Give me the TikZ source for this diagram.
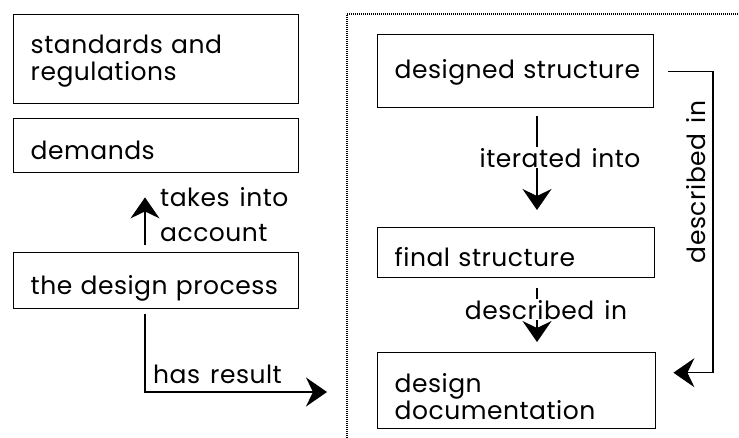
\documentclass[tikz,border=0pt]{standalone}
\usepackage{fontspec}
\setmainfont{Poppins}[LetterSpace=2,WordSpace=1.4]
\usetikzlibrary{arrows.meta,calc}
\tikzset{headtip/.tip={Stealth[length=21pt,width=29pt,inset=7pt]}}
\begin{document}
\begin{tikzpicture}[x=1pt,y=-1pt,
  every node/.style={font=\fontsize{25}{27}\selectfont},
  box/.style={draw, line width=1.4pt, anchor=north west, inner xsep=17pt, inner ysep=0pt, align=left},
  conn/.style={line width=1.4pt, -headtip},
  lbl/.style={inner sep=0pt}]
\useasboundingbox (0,0) rectangle (739,437);
% dotted system boundary
\draw[line width=1.1pt, dash pattern=on 1pt off 1pt] (347,440) -- (347,14) -- (742,14);
% boxes
\node[box, text width=251pt, text height=39pt, text depth=50pt] (std) at (13,14) {\mbox{standards and}\\\mbox{regulations}};
\node[box, text width=251pt, text height=41pt, text depth=13pt] (dem) at (13,118) {\mbox{demands}};
\node[box, text width=251pt, text height=42pt, text depth=14pt] (proc) at (13,252) {\mbox{the design process}};
\node[box, text width=242pt, text height=44pt, text depth=29pt] (des) at (377,34) {\mbox{designed structure}};
\node[box, text width=243pt, text height=39pt, text depth=11pt] (fin) at (377,227) {\mbox{final structure}};
\node[box, text width=244pt, text height=40pt, text depth=36pt, font=\fontsize{25}{25}\selectfont] (doc) at (377,352) {\mbox{design}\\\mbox{documentation}};
% helper coordinates
\coordinate (ax) at (145,0);
\coordinate (bx) at (537,0);
\coordinate (rx) at (713,0);
\coordinate (hr) at (327,392);
\coordinate (dr) at ($(doc.east)+(0,-18)$);
% takes into account
\draw[conn, shorten <=7pt, shorten >=24pt] (proc.north -| ax) -- (dem.south -| ax);
\node[lbl, anchor=base west] (ta) at (160,206) {takes into};
\node[lbl, anchor=base west] (tb) at (160,241) {account};
% has result
\draw[conn, shorten <=5pt] (proc.south -| ax) -- (ax |- hr) -- (hr);
\node[lbl, anchor=base west] (hres) at (153,383) {has result};
% iterated into
\draw[conn, shorten <=8pt, shorten >=17pt] (des.south -| bx) -- (fin.north -| bx);
\node[lbl, anchor=base, fill=white, inner ysep=1pt] (it) at (560,167) {iterated into};
% described in (lower)
\draw[conn, shorten <=10pt, shorten >=10pt] (fin.south -| bx) -- (doc.north -| bx);
\node[lbl, anchor=base, fill=white, inner ysep=1pt] (d1) at (546,319) {described in};
% described in (right)
\draw[conn, shorten <=14pt, shorten >=17pt] (des.east) -- (des.east -| rx) -- (rx |- dr) -- (dr);
\node[lbl, anchor=base, rotate=90] (d2) at (705,182) {described in};
\end{tikzpicture}
\end{document}
